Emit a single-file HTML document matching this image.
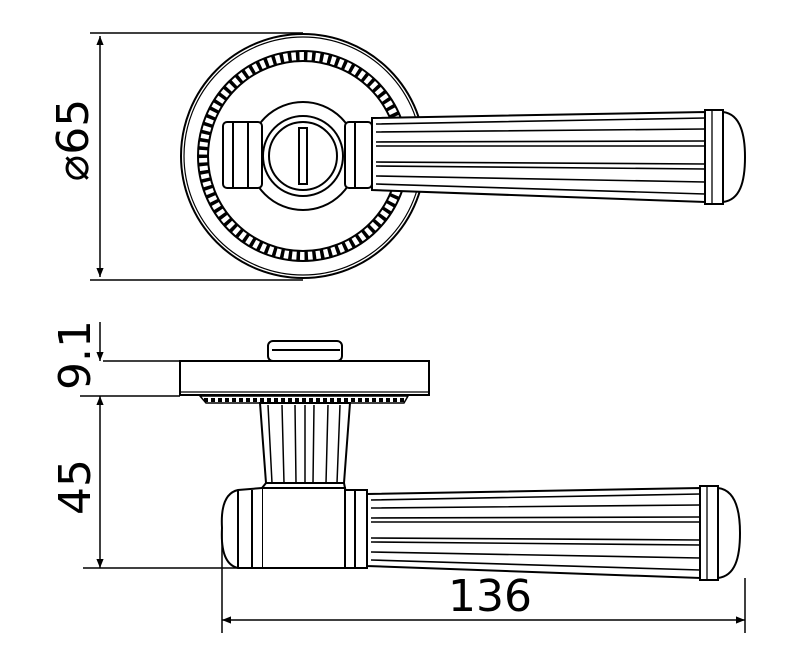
<!DOCTYPE html>
<html><head><meta charset="utf-8"><style>
html,body{margin:0;padding:0;background:#fff;}
svg{display:block;}
text{font-family:"DejaVu Sans","Liberation Sans",sans-serif;fill:#000;}
</style></head><body>
<svg width="800" height="660" viewBox="0 0 800 660" xmlns="http://www.w3.org/2000/svg">
<defs>
<marker id="ar" viewBox="0 0 10 10" refX="10" refY="5" markerWidth="9" markerHeight="14" markerUnits="userSpaceOnUse" orient="auto-start-reverse">
<path d="M0,1 L10,5 L0,9 Z" fill="#000"/></marker>
<g id="lever">
<path d="M0,-36 L333,-42 L333,48 L0,36 Z" fill="#fff" stroke="#000" stroke-width="2"/>
<path d="M4,-30 L333,-36 M4,-22 L333,-25 M4,-12 L333,-13 M4,-8 L333,-8 M4,8 L333,10 M4,12 L333,15 M4,22 L333,28 M4,30 L333,40" stroke="#000" stroke-width="1.6" fill="none"/>
<rect x="333" y="-44" width="18" height="94" fill="#fff" stroke="#000" stroke-width="2"/>
<line x1="340" y1="-44" x2="340" y2="50" stroke="#000" stroke-width="1.3"/>
<path d="M351,-42 C368,-40 373,-20 373,3 C373,28 368,46 351,48 Z" fill="#fff" stroke="#000" stroke-width="2"/>
</g>
</defs>
<g fill="none" stroke="#000" stroke-width="2">
<line x1="90" y1="33" x2="303" y2="33" stroke-width="1.5"/>
<line x1="90" y1="280" x2="303" y2="280" stroke-width="1.5"/>
<line x1="100" y1="36" x2="100" y2="277" stroke-width="1.5" marker-start="url(#ar)" marker-end="url(#ar)"/>
<circle cx="303" cy="156" r="122"/>
<circle cx="303" cy="156" r="119" stroke-width="1.2"/>
<circle cx="303" cy="156" r="105" stroke-width="2"/>
<circle cx="303" cy="156" r="95" stroke-width="2"/>
<circle cx="303" cy="156" r="100" stroke-width="9" stroke-dasharray="3.5 4.5"/>
<circle cx="303" cy="156" r="54" fill="#fff"/>
<rect x="223" y="122" width="39" height="66" fill="#fff" rx="4"/>
<line x1="233" y1="122" x2="233" y2="188"/><line x1="248" y1="122" x2="248" y2="188"/>
<rect x="345" y="122" width="27" height="66" fill="#fff" rx="4"/>
<line x1="355" y1="122" x2="355" y2="188"/>
<circle cx="303" cy="156" r="40" fill="#fff"/>
<circle cx="303" cy="156" r="34"/>
<rect x="299" y="128" width="8" height="56"/>
<use href="#lever" x="372" y="154"/>
<rect x="268" y="341" width="74" height="20" rx="5" fill="#fff"/>
<line x1="272" y1="350" x2="340" y2="350"/>
<rect x="180" y="361" width="249" height="34" fill="#fff"/>
<line x1="180" y1="392" x2="429" y2="392" stroke-width="1.2"/>
<path d="M200,396 L408,396 L404,403 L206,403 Z" stroke-width="1.5"/>
<path d="M204,400 L406,400" stroke-width="4" stroke-dasharray="4 3"/>
<path d="M260,403 L350,403 L344,483 L266,483 Z" fill="#fff"/>
<path d="M268,405 L272,483 M282,405 L284,483 M295,405 L296,483 M305,405 L305,483 M314,405 L313,483 M328,405 L326,483 M340,405 L337,483" stroke-width="1.5"/>
<path d="M266,483 L262,488 L345,488 L344,483" />
<rect x="262" y="488" width="83" height="80" fill="#fff"/>
<path d="M262,488 L238,490 Q220,494 222,528 Q220,564 238,568 L262,568" fill="#fff"/>
<line x1="238" y1="490" x2="238" y2="568"/><line x1="252" y1="490" x2="252" y2="568"/>
<rect x="345" y="490" width="22" height="78" fill="#fff"/>
<line x1="355" y1="490" x2="355" y2="568"/>
<use href="#lever" x="367" y="530"/>
<line x1="100" y1="322" x2="100" y2="361" stroke-width="1.5" marker-end="url(#ar)"/>
<line x1="100" y1="396" x2="100" y2="568" stroke-width="1.5" marker-start="url(#ar)" marker-end="url(#ar)"/>
<line x1="103" y1="361" x2="180" y2="361" stroke-width="1.5"/>
<line x1="80" y1="396" x2="180" y2="396" stroke-width="1.5"/>
<line x1="83" y1="568" x2="262" y2="568" stroke-width="1.5"/>
<line x1="222" y1="530" x2="222" y2="633" stroke-width="1.5"/>
<line x1="745" y1="578" x2="745" y2="633" stroke-width="1.5"/>
<line x1="222" y1="620" x2="745" y2="620" stroke-width="1.5" marker-start="url(#ar)" marker-end="url(#ar)"/>
</g>
<text transform="translate(88,140) rotate(-90)" font-size="44" text-anchor="middle">⌀65</text>
<text transform="translate(90,355) rotate(-90)" font-size="44" text-anchor="middle">9.1</text>
<text transform="translate(90,487) rotate(-90)" font-size="44" text-anchor="middle">45</text>
<text x="490" y="611" font-size="44" text-anchor="middle">136</text>
</svg>
</body></html>
